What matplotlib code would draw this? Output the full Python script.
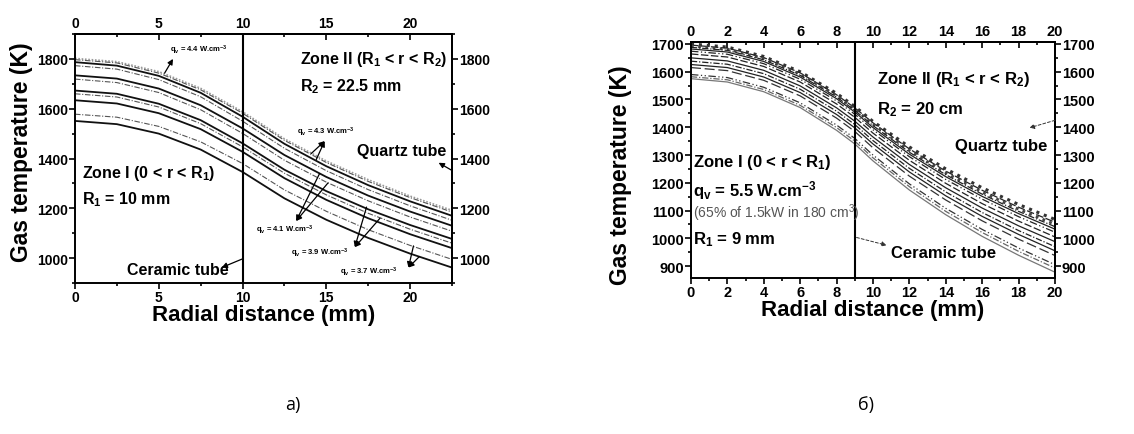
import matplotlib
matplotlib.use("Agg")
import matplotlib.pyplot as plt
from matplotlib.ticker import MultipleLocator

plt.rcParams['font.family'] = ['Liberation Sans', 'DejaVu Sans']
plt.rcParams['mathtext.fontset'] = 'custom'
plt.rcParams['mathtext.rm'] = 'Liberation Sans'
plt.rcParams['mathtext.it'] = 'Liberation Sans:italic'
plt.rcParams['mathtext.bf'] = 'Liberation Sans:bold'

# ---- panel a): radial temperature profiles, R1 = 10 mm, R2 = 22.5 mm
r_a = [0, 2.5, 5, 7.5, 10, 12.5, 15, 17.5, 20, 22.5]
t_a_44_dot = [1802, 1789, 1749, 1682, 1588, 1479, 1390, 1315, 1249, 1192]
t_a_44 = [1797, 1784, 1743, 1676, 1582, 1473, 1384, 1308, 1243, 1185]
t_a_43 = [1787, 1773, 1732, 1664, 1568, 1459, 1369, 1293, 1228, 1170]
t_a_42 = [1773, 1759, 1717, 1648, 1550, 1441, 1351, 1275, 1210, 1152]
t_a_41 = [1734, 1721, 1681, 1614, 1521, 1414, 1326, 1251, 1187, 1130]
t_a_40 = [1719, 1705, 1665, 1596, 1501, 1393, 1305, 1230, 1165, 1108]
t_a_39 = [1673, 1660, 1620, 1554, 1461, 1355, 1269, 1196, 1133, 1077]
t_a_38 = [1660, 1647, 1607, 1540, 1447, 1341, 1254, 1180, 1116, 1060]
t_a_375 = [1634, 1621, 1582, 1518, 1427, 1321, 1234, 1160, 1096, 1040]
t_a_37 = [1578, 1566, 1529, 1467, 1380, 1274, 1188, 1114, 1051, 995]
t_a_36 = [1551, 1538, 1500, 1436, 1346, 1240, 1154, 1081, 1018, 962]

# ---- panel б): R1 = 9 mm, q_v = 5.5 W/cm3
r_b = [0, 2, 4, 6, 8, 9, 10, 12, 14, 16, 18, 20]
t_b_1 = [1700, 1689, 1655, 1600, 1522, 1475, 1421, 1329, 1250, 1182, 1122, 1068]
t_b_2 = [1696, 1685, 1651, 1596, 1517, 1470, 1416, 1322, 1242, 1173, 1112, 1058]
t_b_3 = [1692, 1681, 1647, 1592, 1513, 1466, 1411, 1316, 1236, 1166, 1105, 1050]
t_b_4 = [1688, 1677, 1643, 1587, 1509, 1461, 1406, 1310, 1229, 1159, 1097, 1042]
t_b_5 = [1682, 1671, 1637, 1581, 1503, 1455, 1399, 1303, 1222, 1151, 1089, 1033]
t_b_6 = [1674, 1663, 1629, 1573, 1495, 1447, 1391, 1294, 1212, 1141, 1078, 1022]
t_b_7 = [1664, 1653, 1619, 1563, 1484, 1436, 1379, 1281, 1198, 1125, 1062, 1005]
t_b_8 = [1650, 1639, 1605, 1549, 1470, 1422, 1365, 1266, 1182, 1109, 1045, 988]
t_b_9 = [1638, 1627, 1593, 1537, 1458, 1410, 1352, 1252, 1167, 1093, 1028, 970]
t_b_10 = [1626, 1615, 1581, 1525, 1446, 1398, 1340, 1239, 1153, 1079, 1014, 955]
t_b_11 = [1615, 1604, 1569, 1513, 1433, 1385, 1326, 1224, 1138, 1063, 997, 938]
t_b_12 = [1590, 1579, 1544, 1488, 1408, 1360, 1300, 1196, 1108, 1032, 965, 905]
t_b_13 = [1582, 1571, 1536, 1479, 1399, 1350, 1290, 1186, 1097, 1021, 953, 893]
t_b_14 = [1575, 1563, 1528, 1471, 1389, 1340, 1279, 1174, 1085, 1007, 939, 878]

fig = plt.figure(figsize=(11.34, 4.35), dpi=100)


def style_axes(ax, xlim, ylim, xmaj, xmin, ymaj, ymin, fs):
    ax.set_xlim(*xlim)
    ax.set_ylim(*ylim)
    ax.xaxis.set_major_locator(MultipleLocator(xmaj))
    ax.xaxis.set_minor_locator(MultipleLocator(xmin))
    ax.yaxis.set_major_locator(MultipleLocator(ymaj))
    ax.yaxis.set_minor_locator(MultipleLocator(ymin))
    for sp in ax.spines.values():
        sp.set_linewidth(1.4)
    ax.tick_params(which='both', direction='out', width=1.2,
                   labelsize=fs, pad=1)
    ax.tick_params(which='major', length=4)
    ax.tick_params(which='minor', length=2.5)
    for lab in ax.get_xticklabels() + ax.get_yticklabels():
        lab.set_fontweight('bold')
    top = ax.secondary_xaxis('top')
    top.xaxis.set_major_locator(MultipleLocator(xmaj))
    top.xaxis.set_minor_locator(MultipleLocator(xmin))
    top.tick_params(which='both', direction='in', width=1.2, labelsize=fs, pad=3)
    top.tick_params(which='major', length=4)
    top.tick_params(which='minor', length=2.5)
    right = ax.secondary_yaxis('right')
    right.yaxis.set_major_locator(MultipleLocator(ymaj))
    right.yaxis.set_minor_locator(MultipleLocator(ymin))
    right.tick_params(which='both', direction='out', width=1.2, labelsize=fs, pad=1)
    right.tick_params(which='major', length=4)
    right.tick_params(which='minor', length=2.5)
    for a in (top, right):
        for sp in a.spines.values():
            sp.set_linewidth(1.4)
        for lab in a.get_xticklabels() + a.get_yticklabels():
            lab.set_fontweight('bold')
    ax.set_xlabel('Radial distance (mm)', fontsize=16, fontweight='bold', labelpad=0)
    ax.set_ylabel('Gas temperature (K)', fontsize=16.5, fontweight='bold')


# ---------------- panel a ----------------
ax1 = fig.add_axes([0.0661, 0.3471, 0.3325, 0.5724])
dd = (0, (5, 1.5, 1, 1.5))
ax1.plot(r_a, t_a_44_dot, color='#9a9a9a', lw=1.2, ls=(0, (1, 1)))
ax1.plot(r_a, t_a_44, color='#555555', lw=0.8, ls=dd)
ax1.plot(r_a, t_a_43, color='#111111', lw=1.3)
ax1.plot(r_a, t_a_42, color='#555555', lw=0.8, ls=dd)
ax1.plot(r_a, t_a_41, color='#111111', lw=1.3)
ax1.plot(r_a, t_a_40, color='#555555', lw=0.8, ls=dd)
ax1.plot(r_a, t_a_39, color='#111111', lw=1.3)
ax1.plot(r_a, t_a_38, color='#555555', lw=0.8, ls=dd)
ax1.plot(r_a, t_a_375, color='#111111', lw=1.3)
ax1.plot(r_a, t_a_37, color='#555555', lw=0.8, ls=dd)
ax1.plot(r_a, t_a_36, color='#111111', lw=1.3)
ax1.axvline(10, color='k', lw=1.5)
style_axes(ax1, (0, 22.5), (900, 1900), 5, 2.5, 200, 100, 10)
ax1.yaxis.set_label_coords(-0.112, 0.53)

big = dict(fontsize=11.5, fontweight='bold', va='center')
ax1.text(0.4, 1344, r'Zone I (0 < r < R$_\mathregular{1}$)', **big)
ax1.text(0.4, 1237, r'R$_\mathregular{1}$ = 10 mm', **big)
ax1.text(13.4, 1803, r'Zone II (R$_\mathregular{1}$ < r < R$_\mathregular{2}$)', **big)
ax1.text(13.4, 1693, r'R$_\mathregular{2}$ = 22.5 mm', **big)
ax1.text(16.85, 1431, 'Quartz tube', **big)
ax1.text(3.1, 955, 'Ceramic tube', **big)
arr = dict(arrowstyle='-|>', color='k', lw=0.9, mutation_scale=8, shrinkA=0, shrinkB=0)
ax1.annotate('', xy=(21.7, 1383), xytext=(22.5, 1352), arrowprops=arr)
ax1.annotate('', xy=(8.75, 962), xytext=(10, 997), arrowprops=arr)

small = dict(fontsize=5.5, fontweight='bold', ha='center', va='center')
ax1.text(7.4, 1838, r'q$_\mathregular{v}$ = 4.4 W.cm$^\mathregular{-3}$', **small)
ax1.annotate('', xy=(5.85, 1800), xytext=(5.35, 1743), arrowprops=arr)
ax1.text(15.0, 1511, r'q$_\mathregular{v}$ = 4.3 W.cm$^\mathregular{-3}$', **small)
ax1.annotate('', xy=(14.9, 1470), xytext=(14.1, 1420), arrowprops=arr)
ax1.annotate('', xy=(14.9, 1470), xytext=(14.4, 1396), arrowprops=arr)
ax1.text(12.5, 1116, r'q$_\mathregular{v}$ = 4.1 W.cm$^\mathregular{-3}$', **small)
ax1.annotate('', xy=(13.2, 1149), xytext=(14.6, 1340), arrowprops=arr)
ax1.annotate('', xy=(13.2, 1149), xytext=(15.1, 1302), arrowprops=arr)
ax1.text(14.6, 1022, r'q$_\mathregular{v}$ = 3.9 W.cm$^\mathregular{-3}$', **small)
ax1.annotate('', xy=(16.7, 1044), xytext=(17.4, 1205), arrowprops=arr)
ax1.annotate('', xy=(16.7, 1044), xytext=(18.2, 1160), arrowprops=arr)
ax1.text(17.55, 947, r'q$_\mathregular{v}$ = 3.7 W.cm$^\mathregular{-3}$', **small)
ax1.annotate('', xy=(19.9, 962), xytext=(20.2, 1049), arrowprops=arr)
ax1.annotate('', xy=(19.9, 962), xytext=(20.55, 1006), arrowprops=arr)

# ---------------- panel б ----------------
ax2 = fig.add_axes([0.6093, 0.3586, 0.321, 0.5425])
dotm = (0, (1, 1.6))
dd2 = (0, (6, 2, 1, 2, 1, 2))
ax2.plot(r_b, t_b_1, color='#333333', lw=2.2, ls=dotm)
ax2.plot(r_b, t_b_2, color='#222222', lw=0.9, ls=(0, (6, 2)))
ax2.plot(r_b, t_b_3, color='#444444', lw=2.0, ls=dotm)
ax2.plot(r_b, t_b_4, color='#222222', lw=0.9, ls=dd)
ax2.plot(r_b, t_b_5, color='#222222', lw=0.9)
ax2.plot(r_b, t_b_6, color='#222222', lw=0.9, ls=dd2)
ax2.plot(r_b, t_b_7, color='#222222', lw=0.9, ls=(0, (6, 2)))
ax2.plot(r_b, t_b_8, color='#222222', lw=0.9)
ax2.plot(r_b, t_b_9, color='#222222', lw=0.9, ls=dd)
ax2.plot(r_b, t_b_10, color='#222222', lw=0.9)
ax2.plot(r_b, t_b_11, color='#333333', lw=0.9, ls=(0, (8, 3)))
ax2.plot(r_b, t_b_12, color='#333333', lw=0.9, ls=dd2)
ax2.plot(r_b, t_b_13, color='#666666', lw=0.9, ls=dd)
ax2.plot(r_b, t_b_14, color='#777777', lw=0.9)
ax2.axvline(9, color='k', lw=1.5)
style_axes(ax2, (0, 20), (857, 1707), 2, 1, 100, 50, 10.5)
ax2.yaxis.set_label_coords(-0.163, 0.44)

bigb = dict(fontsize=12, fontweight='bold', va='center')
ax2.text(0.1, 1277, r'Zone I (0 < r < R$_\mathregular{1}$)', **bigb)
ax2.text(0.1, 1177, r'q$_\mathregular{v}$ = 5.5 W.cm$^\mathregular{-3}$', **bigb)
ax2.text(0.1, 1093, r'(65% of 1.5kW in 180 cm$^\mathregular{3}$)', fontsize=10,
         va='center', color='#555555')
ax2.text(0.1, 997, r'R$_\mathregular{1}$ = 9 mm', **bigb)
ax2.text(10.2, 1574, r'Zone II (R$_\mathregular{1}$ < r < R$_\mathregular{2}$)', **bigb)
ax2.text(10.2, 1466, r'R$_\mathregular{2}$ = 20 cm', **bigb)
ax2.text(14.5, 1334, 'Quartz tube', **bigb)
ax2.text(11.0, 949, 'Ceramic tube', **bigb)
darr = dict(arrowstyle='-|>', color='#333333', lw=0.7, ls=(0, (3, 2)),
            mutation_scale=7, shrinkA=0, shrinkB=0)
ax2.annotate('', xy=(18.6, 1398), xytext=(20.0, 1425), arrowprops=darr)
ax2.annotate('', xy=(10.75, 975), xytext=(9.1, 1003), arrowprops=darr)

fig.text(0.258, 0.069, 'а)', fontsize=13, family=['Open Sans', 'DejaVu Sans'], ha='center', va='center')
fig.text(0.764, 0.069, 'б)', fontsize=13, family=['Open Sans', 'DejaVu Sans'], ha='center', va='center')

fig.savefig('out.png', dpi=100)
